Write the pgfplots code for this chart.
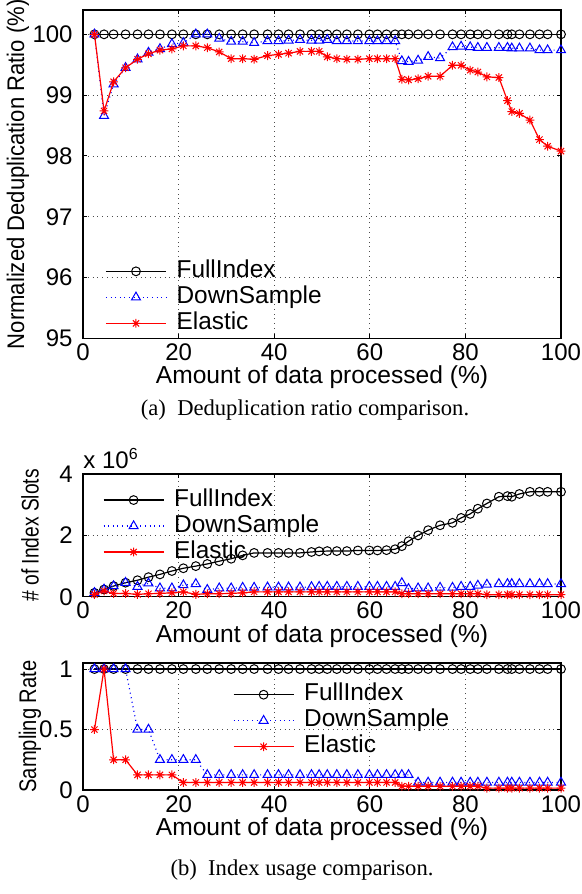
\documentclass[border=0pt]{standalone}
\usepackage{fontspec}
\setmainfont{Liberation Sans}
\newfontfamily\capfont{Liberation Serif}
\usepackage{graphicx}
\usepackage{pgfplots}
\usepackage{pgfplotstable}
\pgfplotsset{compat=1.18}

\pgfdeclareplotmark{mstar}{%
 \pgfpathmoveto{\pgfqpoint{-\pgfplotmarksize}{0pt}}\pgfpathlineto{\pgfqpoint{\pgfplotmarksize}{0pt}}%
 \pgfpathmoveto{\pgfqpoint{0pt}{-\pgfplotmarksize}}\pgfpathlineto{\pgfqpoint{0pt}{\pgfplotmarksize}}%
 \pgfpathmoveto{\pgfqpoint{-.7071\pgfplotmarksize}{-.7071\pgfplotmarksize}}\pgfpathlineto{\pgfqpoint{.7071\pgfplotmarksize}{.7071\pgfplotmarksize}}%
 \pgfpathmoveto{\pgfqpoint{-.7071\pgfplotmarksize}{.7071\pgfplotmarksize}}\pgfpathlineto{\pgfqpoint{.7071\pgfplotmarksize}{-.7071\pgfplotmarksize}}%
 \pgfusepathqstroke}

\pgfplotstableread{
x full down elas
2.4 100 100 100
4.4 100 98.66 98.74
6.4 100 99.18 99.22
8.9 100 99.45 99.45
11.4 100 99.59 99.59
13.7 100 99.70 99.68
16.1 100 99.76 99.74
18.6 100 99.84 99.76
21.0 100 99.86 99.81
23.6 100 100 99.81
26.0 100 100 99.78
28.5 100 99.93 99.71
31.0 100 99.88 99.60
33.4 100 99.88 99.60
35.8 100 99.86 99.59
38.6 100 99.89 99.65
40.9 100 99.89 99.67
43.0 100 99.90 99.69
45.4 100 99.91 99.72
47.8 100 99.90 99.72
49.4 100 99.90 99.72
51.1 100 99.91 99.63
53.1 100 99.89 99.60
55.2 100 99.89 99.59
57.5 100 99.89 99.59
59.9 100 99.89 99.60
61.6 100 99.89 99.60
63.5 100 99.89 99.60
65.3 100 99.89 99.60
66.7 100 99.56 99.26
68.1 100 99.55 99.25
70.1 100 99.57 99.27
72.2 100 99.63 99.31
74.7 100 99.61 99.31
77.3 100 99.79 99.49
79.1 100 99.80 99.49
81.0 100 99.79 99.41
82.6 100 99.78 99.38
84.5 100 99.78 99.30
87.0 100 99.78 99.29
88.8 100 99.78 98.91
89.7 100 99.77 98.73
91.3 100 99.77 98.70
93.5 100 99.77 98.59
95.5 100 99.74 98.27
97.2 100 99.74 98.16
100 100 99.74 98.08
}\dedup

\pgfplotstableread{
x full down elas
2.4 0.13 0.13 0.08
4.4 0.24 0.24 0.19
6.4 0.35 0.35 0.11
8.9 0.46 0.46 0.11
11.4 0.54 0.33 0.08
13.7 0.64 0.44 0.10
16.1 0.73 0.28 0.11
18.6 0.84 0.28 0.13
21.0 0.93 0.38 0.16
23.6 1.00 0.42 0.08
26.0 1.07 0.23 0.10
28.5 1.16 0.28 0.10
31.0 1.24 0.28 0.11
33.4 1.35 0.30 0.13
35.8 1.43 0.30 0.16
38.6 1.43 0.31 0.16
40.9 1.43 0.31 0.16
43.0 1.43 0.31 0.16
45.4 1.43 0.31 0.16
47.8 1.46 0.32 0.16
49.4 1.48 0.33 0.16
51.1 1.49 0.33 0.16
53.1 1.49 0.33 0.16
55.2 1.49 0.33 0.16
57.5 1.51 0.33 0.16
59.9 1.51 0.33 0.16
61.6 1.51 0.33 0.16
63.5 1.52 0.33 0.16
65.3 1.55 0.33 0.16
66.7 1.65 0.45 0.10
68.1 1.81 0.26 0.10
70.1 2.00 0.28 0.10
72.2 2.17 0.28 0.10
74.7 2.33 0.30 0.10
77.3 2.41 0.30 0.10
79.1 2.57 0.33 0.10
81.0 2.70 0.33 0.10
82.6 2.87 0.37 0.10
84.5 3.04 0.40 0.07
87.0 3.26 0.42 0.07
88.8 3.28 0.42 0.07
89.7 3.26 0.42 0.07
91.3 3.35 0.42 0.07
93.5 3.42 0.42 0.07
95.5 3.42 0.42 0.07
97.2 3.42 0.42 0.07
100 3.42 0.42 0.07
}\index

\pgfplotstableread{
x full down elas
2.4 1 1 0.5
4.4 1 1 1
6.4 1 1 0.25
8.9 1 1 0.25
11.4 1 0.5 0.125
13.7 1 0.5 0.125
16.1 1 0.25 0.125
18.6 1 0.25 0.125
21.0 1 0.25 0.0625
23.6 1 0.25 0.0625
26.0 1 0.125 0.0625
28.5 1 0.125 0.0625
31.0 1 0.125 0.0625
33.4 1 0.125 0.0625
35.8 1 0.125 0.0625
38.6 1 0.125 0.0625
40.9 1 0.125 0.0625
43.0 1 0.125 0.0625
45.4 1 0.125 0.0625
47.8 1 0.125 0.0625
49.4 1 0.125 0.0625
51.1 1 0.125 0.0625
53.1 1 0.125 0.0625
55.2 1 0.125 0.0625
57.5 1 0.125 0.0625
59.9 1 0.125 0.0625
61.6 1 0.125 0.0625
63.5 1 0.125 0.0625
65.3 1 0.125 0.0625
66.7 1 0.125 0.03125
68.1 1 0.125 0.03125
70.1 1 0.0625 0.03125
72.2 1 0.0625 0.03125
74.7 1 0.0625 0.03125
77.3 1 0.0625 0.03125
79.1 1 0.0625 0.03125
81.0 1 0.0625 0.03125
82.6 1 0.0625 0.03125
84.5 1 0.0625 0.015625
87.0 1 0.0625 0.015625
88.8 1 0.0625 0.015625
89.7 1 0.0625 0.015625
91.3 1 0.0625 0.015625
93.5 1 0.0625 0.015625
95.5 1 0.0625 0.015625
97.2 1 0.0625 0.015625
100 1 0.0625 0.015625
}\rate

\pgfplotsset{
  every axis/.append style={
    scale only axis, width=239pt, xmin=0, xmax=100, xtick={0,20,...,100},
    tick align=inside, major tick length=2.2pt,
    grid=major, grid style={dotted, black!70, line width=0.45pt},
    axis line style={line width=0.6pt, black},
    tick style={line width=0.5pt, black},
    /pgf/number format/assume math mode=true,
    tick label style={font=\fontsize{12}{14}\selectfont},
    xticklabel style={anchor=north, inner sep=0pt, yshift=-2.5pt},
    yticklabel style={anchor=east, inner sep=0pt, xshift=-5pt},
    every axis x label/.style={at={(axis description cs:0.5,0)}, anchor=center, yshift=-19.5pt, font=\fontsize{12.3}{14}\selectfont},
    xlabel={Amount of data processed (\%)},
    legend cell align=left,
    legend style={draw=none, fill=none, inner sep=0pt, font=\fontsize{12.2}{14}\selectfont,
      nodes={inner sep=0.5pt, text height=9pt, text depth=3pt},
      /tikz/every odd column/.append style={column sep=4.5pt}},
    clip mode=individual,
  },
  legend image code/.code={\draw[mark repeat=2,mark phase=2,#1] plot coordinates {(0pt,0pt) (15pt,0pt) (30pt,0pt)};},
  fullst/.style={black, solid, line width=0.6pt, mark=o, mark size=2.2pt, mark options={solid, line width=0.5pt}},
  downst/.style={blue, line width=0.6pt, dash pattern=on 0.5pt off 1.8pt, mark=triangle, mark size=2.6pt, mark options={solid, line width=0.5pt}},
  elasst/.style={red, line width=0.6pt, mark=mstar, mark size=2.2pt, mark options={solid, line width=0.5pt}},
}

\begin{document}
\begin{tikzpicture}
\useasboundingbox (0,0) rectangle (291pt,-447pt);

\begin{axis}[at={(41.5pt,-5pt)}, anchor=north west, height=164.2pt,
  ymin=95, ymax=100.4, ytick={95,96,...,100},
  ylabel={\scalebox{0.92}[1]{Normalized Deduplication Ratio (\%)}},
  every axis y label/.style={at={(axis description cs:-0.136,0.5)}, rotate=90, anchor=center, font=\fontsize{12}{14}\selectfont},
  legend style={at={(axis description cs:0.046,0.245)}, anchor=north west}]
\addplot[fullst] table[x=x,y=full]{\dedup};
\addplot[downst] table[x=x,y=down]{\dedup};
\addplot[elasst] table[x=x,y=elas]{\dedup};
\legend{FullIndex, DownSample, Elastic}
\end{axis}

\begin{axis}[at={(41.5pt,-237pt)}, anchor=north west, height=61.4pt,
  ymin=0, ymax=4, ytick={0,2,4},
  ylabel={\scalebox{0.8}[1]{\# of Index Slots}},
  every axis y label/.style={at={(axis description cs:-0.111,0.5)}, rotate=90, anchor=center, font=\fontsize{12}{14}\selectfont},
  legend style={at={(axis description cs:0.041,0.897)}, anchor=north west}]
\addplot[fullst] table[x=x,y=full]{\index};
\addplot[downst] table[x=x,y=down]{\index};
\addplot[elasst] table[x=x,y=elas]{\index};
\legend{FullIndex, DownSample, Elastic}
\node[anchor=base west, inner sep=0pt, font=\fontsize{12}{14}\selectfont] at (rel axis cs:0,1) [yshift=3pt] {x 10\textsuperscript{6}};
\end{axis}

\begin{axis}[at={(41.5pt,-331.5pt)}, anchor=north west, height=63.5pt,
  ymin=0, ymax=1.05, ytick={0,0.5,1},
  ylabel={\scalebox{0.84}[1]{Sampling Rate}},
  every axis y label/.style={at={(axis description cs:-0.111,0.5)}, rotate=90, anchor=center, font=\fontsize{12}{14}\selectfont},
  legend style={at={(axis description cs:0.313,0.856)}, anchor=north west}]
\addplot[fullst] table[x=x,y=full]{\rate};
\addplot[downst] table[x=x,y=down]{\rate};
\addplot[elasst] table[x=x,y=elas]{\rate};
\legend{FullIndex, DownSample, Elastic}
\end{axis}

\node[font=\capfont\fontsize{11.3}{13}\selectfont] at (152.5pt,-205pt) {(a)\ \ Deduplication ratio comparison.};
\node[font=\capfont\fontsize{11.3}{13}\selectfont] at (151pt,-435pt) {(b)\ \ Index usage comparison.};
\end{tikzpicture}
\end{document}
